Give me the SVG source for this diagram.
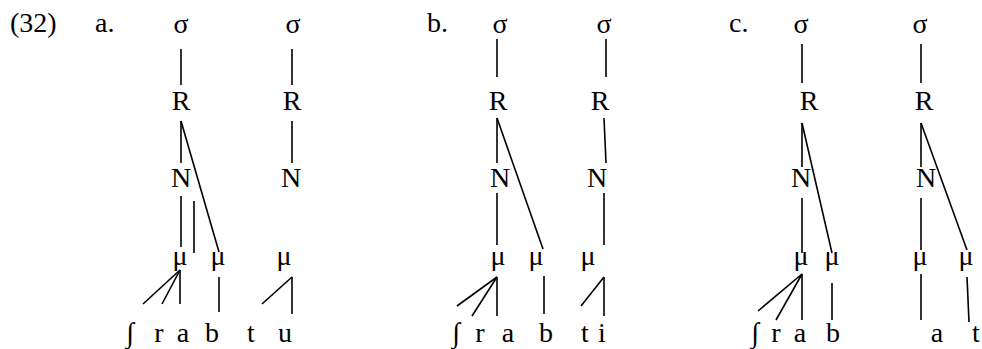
<svg xmlns="http://www.w3.org/2000/svg" width="982" height="349" viewBox="0 0 982 349">
<style>
text{font-family:"Liberation Serif","Times New Roman",serif;font-size:28px;fill:#000}
.n{text-anchor:middle}
.c line{stroke:#000;stroke-width:1.6;fill:none}
</style>
<rect width="982" height="349" fill="#fff"/>
<g id="labels">
<text x="10" y="32">(32)</text>
<text x="95" y="32">a.</text>
<text x="427" y="32">b.</text>
<text x="729" y="32">c.</text>
</g>
<g id="tree-a">
<g id="a-s1"><text class="n" x="181" y="33">σ</text></g>
<g id="a-s2"><text class="n" x="293" y="33">σ</text></g>
<g id="a-R1"><text class="n" x="181" y="110">R</text></g>
<g id="a-R2"><text class="n" x="292" y="110">R</text></g>
<g id="a-N1"><text class="n" x="181" y="187">N</text></g>
<g id="a-N2"><text class="n" x="291" y="187">N</text></g>
<g id="a-m1"><text class="n" x="180" y="265">μ</text></g>
<g id="a-m2"><text class="n" x="218" y="265">μ</text></g>
<g id="a-m3"><text class="n" x="284" y="265">μ</text></g>
<g id="a-seg">
<text class="n" x="130" y="342">∫</text>
<text class="n" x="159" y="342">r</text>
<text class="n" x="183" y="342">a</text>
<text class="n" x="212" y="342">b</text>
<text class="n" x="251" y="342">t</text>
<text class="n" x="285" y="342">u</text>
</g>
</g>
<g id="tree-b">
<g id="b-s1"><text class="n" x="500" y="33">σ</text></g>
<g id="b-s2"><text class="n" x="604" y="33">σ</text></g>
<g id="b-R1"><text class="n" x="498" y="110">R</text></g>
<g id="b-R2"><text class="n" x="600" y="110">R</text></g>
<g id="b-N1"><text class="n" x="500" y="187">N</text></g>
<g id="b-N2"><text class="n" x="597" y="187">N</text></g>
<g id="b-m1"><text class="n" x="498" y="265">μ</text></g>
<g id="b-m2"><text class="n" x="536" y="265">μ</text></g>
<g id="b-m3"><text class="n" x="588" y="265">μ</text></g>
<g id="b-seg">
<text class="n" x="456" y="342">∫</text>
<text class="n" x="480" y="342">r</text>
<text class="n" x="508" y="342">a</text>
<text class="n" x="546" y="342">b</text>
<text class="n" x="585" y="342">t</text>
<text class="n" x="602" y="342">i</text>
</g>
</g>
<g id="tree-c">
<g id="c-s1"><text class="n" x="801" y="33">σ</text></g>
<g id="c-s2"><text class="n" x="920" y="33">σ</text></g>
<g id="c-R1"><text class="n" x="809" y="110">R</text></g>
<g id="c-R2"><text class="n" x="924" y="110">R</text></g>
<g id="c-N1"><text class="n" x="801" y="187">N</text></g>
<g id="c-N2"><text class="n" x="926" y="187">N</text></g>
<g id="c-m1"><text class="n" x="801" y="265">μ</text></g>
<g id="c-m2"><text class="n" x="832" y="265">μ</text></g>
<g id="c-m3"><text class="n" x="920" y="265">μ</text></g>
<g id="c-m4"><text class="n" x="966" y="265">μ</text></g>
<g id="c-seg">
<text class="n" x="755" y="342">∫</text>
<text class="n" x="776" y="342">r</text>
<text class="n" x="800" y="342">a</text>
<text class="n" x="833" y="342">b</text>
<text class="n" x="937" y="342">a</text>
<text class="n" x="976" y="342">t</text>
</g>
</g>
<g id="connectors" class="c">
<line x1="181" y1="49" x2="181" y2="85"/>
<line x1="292" y1="49" x2="292" y2="85"/>
<line x1="181" y1="121" x2="181" y2="163"/>
<line x1="181" y1="121" x2="219" y2="252"/>
<line x1="292" y1="121" x2="292" y2="163"/>
<line x1="181" y1="196" x2="181" y2="247"/>
<line x1="194" y1="201" x2="194" y2="253"/>
<line x1="180" y1="270" x2="143" y2="304"/>
<line x1="180" y1="270" x2="162" y2="304"/>
<line x1="180" y1="270" x2="180" y2="304"/>
<line x1="219" y1="277" x2="219" y2="312"/>
<line x1="292" y1="277" x2="262" y2="304"/>
<line x1="292" y1="277" x2="292" y2="314"/>

<line x1="497" y1="39" x2="497" y2="77"/>
<line x1="606" y1="39" x2="606" y2="77"/>
<line x1="497" y1="118" x2="497" y2="163"/>
<line x1="497" y1="118" x2="543" y2="249"/>
<line x1="604" y1="118" x2="606" y2="163"/>
<line x1="497" y1="193" x2="497" y2="245"/>
<line x1="604" y1="193" x2="604" y2="245"/>
<line x1="497" y1="277" x2="457" y2="306"/>
<line x1="497" y1="277" x2="472" y2="316"/>
<line x1="497" y1="277" x2="497" y2="316"/>
<line x1="544" y1="276" x2="544" y2="314"/>
<line x1="604" y1="277" x2="581" y2="306"/>
<line x1="604" y1="277" x2="604" y2="316"/>

<line x1="802" y1="44" x2="802" y2="83"/>
<line x1="921" y1="44" x2="921" y2="83"/>
<line x1="802" y1="123" x2="802" y2="167"/>
<line x1="802" y1="123" x2="832" y2="253"/>
<line x1="921" y1="123" x2="921" y2="167"/>
<line x1="921" y1="123" x2="967" y2="250"/>
<line x1="802" y1="198" x2="802" y2="253"/>
<line x1="921" y1="198" x2="921" y2="250"/>
<line x1="802" y1="274" x2="758" y2="311"/>
<line x1="802" y1="274" x2="776" y2="320"/>
<line x1="802" y1="274" x2="802" y2="320"/>
<line x1="832" y1="283" x2="832" y2="320"/>
<line x1="921" y1="274" x2="921" y2="320"/>
<line x1="967" y1="277" x2="969" y2="322"/>
</g>
</svg>
